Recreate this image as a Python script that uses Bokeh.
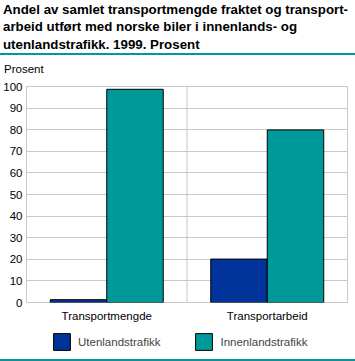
from bokeh.plotting import figure
from bokeh.models import ColumnDataSource, Span, Div, Legend, LegendItem, SingleIntervalTicker
from bokeh.transform import dodge
from bokeh.layouts import column
from bokeh.embed import file_html
from bokeh.resources import INLINE

title_lines = [
    "Andel av samlet transportmengde fraktet og transport-",
    "arbeid utført med norske biler i innenlands- og",
    "utenlandstrafikk. 1999. Prosent",
]
categories = ["Transportmengde", "Transportarbeid"]
utenlands = [1.3, 20.1]
innenlands = [98.7, 79.9]
series_names = ["Utenlandstrafikk", "Innenlandstrafikk"]
y_unit = "Prosent"

BLUE = "#003399"
TEAL = "#009999"
GRID = "#c8c8c8"
FONT = "Liberation Sans"

title_div = Div(
    text='<div style="font-family:\'Liberation Sans\';font-weight:bold;font-size:13.3px;'
         'line-height:17.3px;padding:1px 0 0 3px;white-space:nowrap;color:#000;">'
         + "<br>".join(title_lines) + "</div>",
    width=355, height=53, margin=0,
)
line_top = Div(text="", width=355, height=2, margin=0, styles={"background-color": TEAL})
unit_div = Div(
    text='<div style="font-family:\'Liberation Sans\';font-size:11.5px;line-height:13px;'
         'padding:8px 0 0 4px;white-space:nowrap;color:#000;">' + y_unit + "</div>",
    width=355, height=24, margin=0,
)
line_bottom = Div(text="", width=355, height=2, margin=0, styles={"background-color": TEAL})

source = ColumnDataSource(dict(cats=categories, uten=utenlands, innen=innenlands))

p = figure(width=355, height=246, x_range=categories, y_range=(0, 100),
           output_backend="svg", toolbar_location=None,
           min_border_left=26, min_border_right=8, min_border_top=7, min_border_bottom=23)

r1 = p.vbar(x=dodge("cats", -0.176, range=p.x_range), top="uten", width=0.352, source=source,
            fill_color=BLUE, line_color="black", line_width=1)
r2 = p.vbar(x=dodge("cats", 0.176, range=p.x_range), top="innen", width=0.352, source=source,
            fill_color=TEAL, line_color="black", line_width=1)

p.outline_line_color = GRID

p.xgrid.grid_line_color = None
p.ygrid.grid_line_color = GRID
p.ygrid.ticker = SingleIntervalTicker(interval=10)
p.add_layout(Span(location=1, dimension="height", line_color=GRID, line_width=1))

p.yaxis.ticker = SingleIntervalTicker(interval=10)
for ax in (p.xaxis[0], p.yaxis[0]):
    ax.axis_line_color = None
    ax.major_tick_line_color = None
    ax.minor_tick_line_color = None
    ax.major_tick_out = 0
    ax.major_tick_in = 0
    ax.minor_tick_out = 0
    ax.major_label_text_font = FONT
    ax.major_label_text_font_size = "11.5px"
    ax.major_label_text_color = "black"
p.yaxis.major_label_standoff = 4
p.xaxis.major_label_standoff = 7

# legend panel: a small figure holding only the legend (its swatch renderers sit outside the view)
pl = figure(width=355, height=34, x_range=(0, 1), y_range=(0, 1),
            output_backend="svg", toolbar_location=None,
            x_axis_location=None, y_axis_location=None, min_border=0)
pl.outline_line_color = None
pl.grid.visible = False
lr1 = pl.vbar(x=[-5], top=[-5], width=0.1, fill_color=BLUE, line_color="black", line_width=1)
lr2 = pl.vbar(x=[-5], top=[-5], width=0.1, fill_color=TEAL, line_color="black", line_width=1)
legend = Legend(items=[LegendItem(label=series_names[0], renderers=[lr1]),
                       LegendItem(label=series_names[1], renderers=[lr2])],
                orientation="horizontal", location=(25, 7), margin=0, padding=0,
                spacing=33, glyph_width=21, glyph_height=21, label_standoff=6,
                label_text_font=FONT, label_text_font_size="11.5px",
                border_line_color=None, background_fill_alpha=0)
pl.add_layout(legend, "center")

layout = column(title_div, line_top, unit_div, p, pl, line_bottom, spacing=0)

open("out.html", "w").write(file_html(layout, INLINE))
